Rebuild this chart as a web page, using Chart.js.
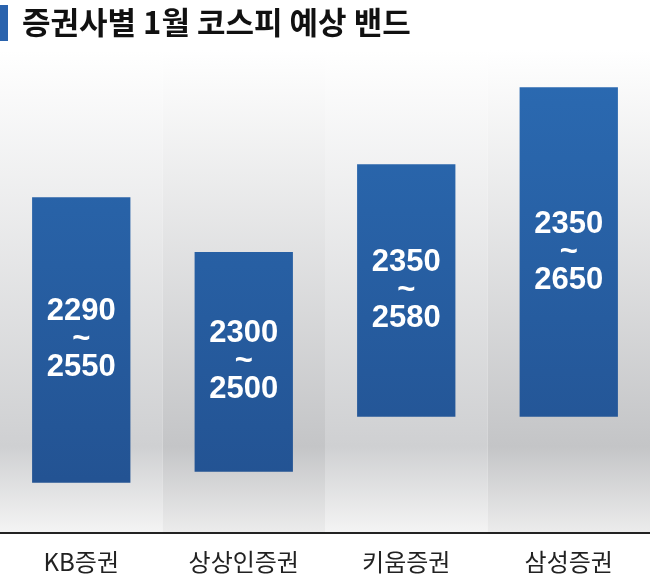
<!DOCTYPE html>
<html><head><meta charset="utf-8">
<script src="https://cdn.jsdelivr.net/npm/chart.js@4"></script>
<style>html,body{margin:0;padding:0;background:#fff;width:650px;height:586px;overflow:hidden}
#wrap{position:relative;width:650px;height:586px}</style></head>
<body><div id="wrap"><canvas id="c" width="650" height="586"></canvas></div>
<script>
const title = '증권사별 1월 코스피 예상 밴드';
const categories = ['KB증권', '상상인증권', '키움증권', '삼성증권'];
const lows = [2290, 2300, 2350, 2350];
const highs = [2550, 2500, 2580, 2650];
const yMin = 2244, yMax = 2684;

const FONT = '"Liberation Sans Narrow","Liberation Sans",Arial,sans-serif';

const bgPlugin = {
  id: 'bg',
  beforeDraw(chart) {
    const {ctx, chartArea: a} = chart;
    ctx.save();
    ctx.fillStyle = '#fff'; ctx.fillRect(0, 0, chart.width, chart.height);
    const n = categories.length, w = (a.right - a.left) / n;
    for (let i = 0; i < n; i++) {
      const g = ctx.createLinearGradient(0, a.top, 0, a.bottom);
      const dark = i % 2 === 1;
      g.addColorStop(0, '#ffffff');
      g.addColorStop(0.82, dark ? '#c4c5c7' : '#cfd0d2');
      g.addColorStop(1, dark ? '#ececec' : '#f4f4f4');
      ctx.fillStyle = g;
      ctx.fillRect(a.left + i * w, a.top - 10, w, a.bottom - a.top + 10);
    }
    // title
    ctx.fillStyle = '#2a63ad';
    ctx.fillRect(0, 5, 8, 36);
    ctx.fillStyle = '#111';
    ctx.font = 'bold 31px "Noto Sans CJK KR", sans-serif';
    ctx.textBaseline = 'middle';
    ctx.fillText(title, 22, 22);
    ctx.restore();
  },
  afterDatasetsDraw(chart) {
    const {ctx} = chart;
    const meta = chart.getDatasetMeta(0);
    ctx.save();
    ctx.fillStyle = '#fff';
    ctx.font = 'bold 31px ' + FONT;
    ctx.textAlign = 'center'; ctx.textBaseline = 'middle';
    meta.data.forEach((bar, i) => {
      const mid = (bar.y + bar.base) / 2;
      ctx.fillText(String(lows[i]), bar.x, mid - 28);
      ctx.fillText('~', bar.x, mid);
      ctx.fillText(String(highs[i]), bar.x, mid + 28);
    });
    ctx.restore();
  }
};

new Chart(document.getElementById('c'), {
  type: 'bar',
  data: {
    labels: categories,
    datasets: [{
      data: lows.map((v, i) => [v, highs[i]]),
      backgroundColor(c) {
        const a = c.chart.chartArea;
        if (!a) return '#2a63ad';
        const g = c.chart.ctx.createLinearGradient(0, a.top, 0, a.bottom);
        g.addColorStop(0, '#2b6bb3');
        g.addColorStop(1, '#22508f');
        return g;
      },
      borderWidth: 0,
      categoryPercentage: 1,
      barPercentage: 0.605
    }]
  },
  options: {
    responsive: false, animation: false,
    layout: {padding: {top: 50, left: 0, right: 0, bottom: 4}},
    plugins: {legend: {display: false}, tooltip: {enabled: false}},
    scales: {
      x: {
        grid: {display: false},
        border: {display: true, color: '#222', width: 2},
        ticks: {color: '#222', font: {family: '"Noto Sans CJK KR", sans-serif', size: 24}, padding: 6}
      },
      y: {display: false, min: yMin, max: yMax}
    }
  },
  plugins: [bgPlugin]
});
</script></body></html>
